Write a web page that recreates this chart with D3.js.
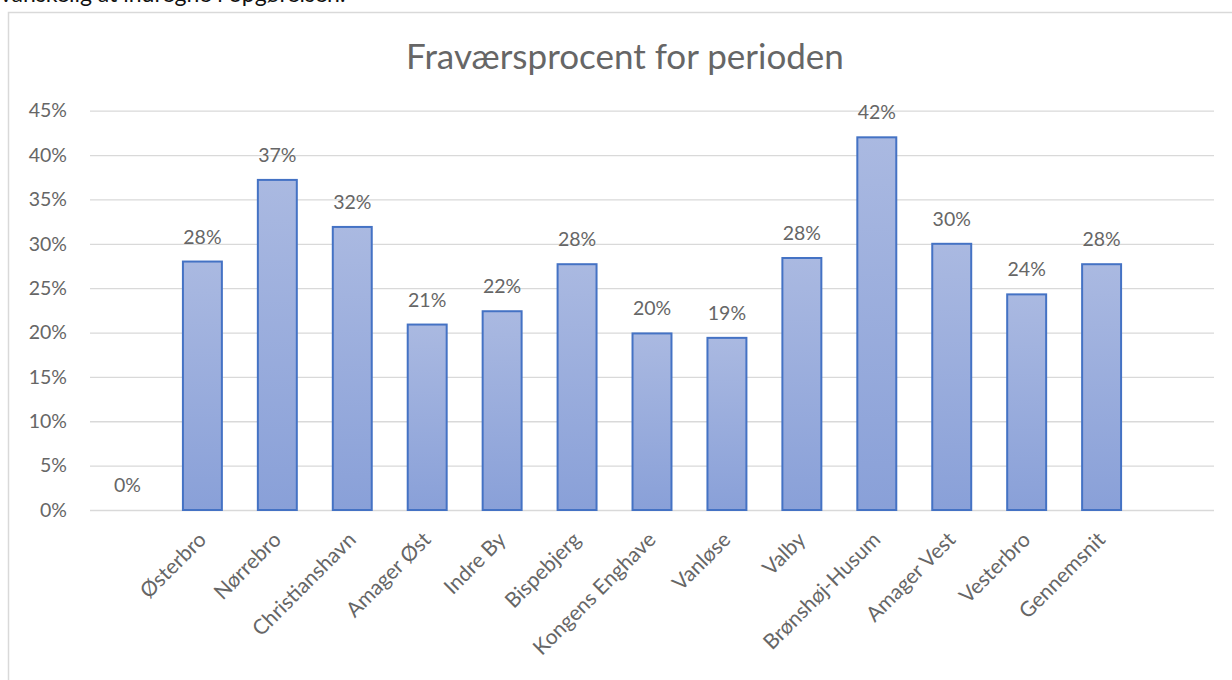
<!DOCTYPE html>
<html>
<head>
<meta charset="utf-8">
<script src="https://cdn.jsdelivr.net/npm/d3@7"></script>
<style>
  html, body { margin: 0; padding: 0; background: #fff; overflow: hidden; }
  svg { display: block; }
</style>
</head>
<body>
<svg id="chart" width="1232" height="680"></svg>
<script>
// Absence percentage per district; first and last slots are empty category positions
const categories = ["", "Østerbro", "Nørrebro", "Christianshavn", "Amager Øst", "Indre By",
  "Bispebjerg", "Kongens Enghave", "Vanløse", "Valby", "Brønshøj-Husum",
  "Amager Vest", "Vesterbro", "Gennemsnit", ""];
const values = [0, 0.28, 0.372, 0.319, 0.209, 0.224, 0.277, 0.199, 0.194, 0.284,
  0.42, 0.30, 0.243, 0.277, null];
const yTicks = [0, 0.05, 0.10, 0.15, 0.20, 0.25, 0.30, 0.35, 0.40, 0.45];
const titleText = "Fraværsprocent for perioden";
const precedingText = "vanskelig at indregne i opgørelsen.";

const svg = d3.select("#chart");
const font = "Lato, 'Open Sans', sans-serif";
const textGrey = "#666666";

// Line of document text above the chart
svg.append("text")
  .attr("x", 0).attr("y", 2)
  .attr("font-family", font).attr("font-size", 23)
  .attr("fill", "#111")
  .text(precedingText);

// Chart frame
svg.append("rect")
  .attr("x", 8.5).attr("y", 12.5)
  .attr("width", 1240).attr("height", 700)
  .attr("fill", "#fff")
  .attr("stroke", "#d9d9d9").attr("stroke-width", 1.5);

const plot = { left: 90, right: 1214, top: 110.7, bottom: 510 };

const x = d3.scaleBand()
  .domain(d3.range(categories.length))
  .range([plot.left, plot.right])
  .paddingInner(0.48)
  .paddingOuter(0.24);

const y = d3.scaleLinear()
  .domain([0, 0.45])
  .range([plot.bottom, plot.top]);

const pct = d3.format(".0%");

// Title
svg.append("text")
  .attr("x", 625).attr("y", 69)
  .attr("text-anchor", "middle")
  .attr("font-family", font).attr("font-size", 35)
  .attr("fill", textGrey)
  .text(titleText);

// Gridlines and y axis labels
const yAxis = d3.axisLeft(y)
  .tickValues(yTicks)
  .tickFormat(pct)
  .tickSize(-(plot.right - plot.left))
  .tickPadding(23);

const gy = svg.append("g")
  .attr("transform", `translate(${plot.left},0)`)
  .call(yAxis);
gy.select(".domain").remove();
gy.selectAll(".tick line")
  .attr("stroke", "#d9d9d9").attr("stroke-width", 1.3);
gy.selectAll(".tick text")
  .attr("font-family", font).attr("font-size", 19.5)
  .attr("fill", textGrey);

// Bar gradient
const defs = svg.append("defs");
const grad = defs.append("linearGradient")
  .attr("id", "barFill")
  .attr("x1", 0).attr("y1", 0).attr("x2", 0).attr("y2", 1);
grad.append("stop").attr("offset", "0%").attr("stop-color", "#aab9e1");
grad.append("stop").attr("offset", "100%").attr("stop-color", "#89a0d8");

const data = values.map((v, i) => ({ i, v, label: categories[i] }));
const withValue = data.filter(d => d.v !== null);

// Bars
svg.append("g")
  .selectAll("rect")
  .data(withValue.filter(d => d.v > 0))
  .join("rect")
  .attr("x", d => x(d.i))
  .attr("y", d => y(d.v))
  .attr("width", x.bandwidth())
  .attr("height", d => y(0) - y(d.v))
  .attr("fill", "url(#barFill)")
  .attr("stroke", "#4472c4")
  .attr("stroke-width", 2);

// Value labels
svg.append("g")
  .selectAll("text")
  .data(withValue)
  .join("text")
  .attr("x", d => x(d.i) + x.bandwidth() / 2)
  .attr("y", d => y(d.v) - 18)
  .attr("text-anchor", "middle")
  .attr("font-family", font).attr("font-size", 19.5)
  .attr("fill", textGrey)
  .text(d => pct(d.v));

// Category axis labels, rotated
const xAxis = d3.axisBottom(x)
  .tickFormat(i => categories[i])
  .tickSize(0)
  .tickPadding(0);

const gx = svg.append("g")
  .attr("transform", `translate(0,${plot.bottom})`)
  .call(xAxis);
gx.select(".domain").remove();
gx.selectAll(".tick text")
  .attr("font-family", font).attr("font-size", 21)
  .attr("fill", textGrey)
  .attr("text-anchor", "end")
  .attr("dy", 0)
  .attr("transform", "translate(5,31) rotate(-45)");
</script>
</body>
</html>
